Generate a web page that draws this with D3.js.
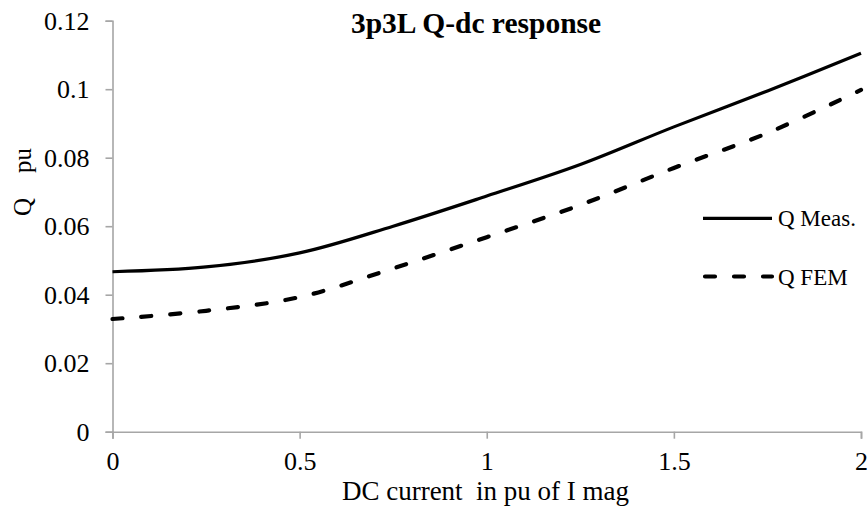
<!DOCTYPE html>
<html><head><meta charset="utf-8">
<script src="https://cdn.jsdelivr.net/npm/d3@7"></script>
<style>
html,body{margin:0;padding:0;background:#fff;}
svg text{font-family:"Liberation Serif","Times New Roman",serif;fill:#000;}
</style></head>
<body><svg id="c" width="868" height="516"></svg>
<script>
const xValues = [0, 0.25, 0.5, 0.75, 1, 1.25, 1.5, 1.75, 2];
const qMeas = [0.0467, 0.0481, 0.0522, 0.0600, 0.0688, 0.0780, 0.0890, 0.0995, 0.1105];
const qFEM  = [0.0329, 0.0353, 0.0393, 0.0477, 0.0568, 0.0662, 0.0770, 0.0872, 0.0998];
const xTicks = [0, 0.5, 1, 1.5, 2];
const yTicks = [0, 0.02, 0.04, 0.06, 0.08, 0.1, 0.12];
const seriesNames = ["Q Meas.", "Q FEM"];

const svg = d3.select("#c");
const x = d3.scaleLinear().domain([0, 2]).range([112.5, 861]);
const y = d3.scaleLinear().domain([0, 0.12]).range([431.7, 20.7]);
const axisColor = "#a6a6a6";

const gx = svg.append("g").attr("transform", `translate(0,${y(0)})`)
  .call(d3.axisBottom(x).tickValues(xTicks).tickFormat(d => d3.format("")(d)).tickSizeOuter(0).tickSize(7).tickPadding(13));
const gy = svg.append("g").attr("transform", `translate(${x(0)},0)`)
  .call(d3.axisLeft(y).tickValues(yTicks).tickFormat(d => String(+d.toFixed(2))).tickSizeOuter(0).tickSize(7).tickPadding(16));
[gx, gy].forEach(g => {
  g.attr("font-family", null);
  g.selectAll("path,line").attr("stroke", axisColor).attr("stroke-width", 1.6);
  g.selectAll("text").attr("font-size", 26).attr("fill", "#000");
});

const line = d3.line().x((d, i) => x(xValues[i])).y(d => y(d)).curve(d3.curveCatmullRom.alpha(0.5));
svg.append("path").datum(qMeas).attr("d", line).attr("fill", "none")
  .attr("stroke", "#000").attr("stroke-width", 3.2);
svg.append("path").datum(qFEM).attr("d", line).attr("fill", "none")
  .attr("stroke", "#000").attr("stroke-width", 4.2).attr("stroke-dasharray", "10,19").attr("stroke-linecap", "round");

// legend
const lg = svg.append("g");
const ly = [218.3, 276.5];
lg.append("line").attr("x1", 703).attr("x2", 772).attr("y1", ly[0]).attr("y2", ly[0]).attr("stroke", "#000").attr("stroke-width", 3.2);
lg.append("line").attr("x1", 705).attr("x2", 772).attr("y1", ly[1]).attr("y2", ly[1]).attr("stroke", "#000").attr("stroke-width", 4.2).attr("stroke-dasharray", "10,19").attr("stroke-linecap", "round");
seriesNames.forEach((n, i) => {
  lg.append("text").attr("x", 778).attr("y", ly[i] + 8).attr("font-size", 23).text(n);
});

svg.append("text").attr("x", 476).attr("y", 33).attr("text-anchor", "middle")
  .attr("font-size", 29.5).attr("font-weight", "bold").text("3p3L Q-dc response");
svg.append("text").attr("x", 485.5).attr("y", 500).attr("text-anchor", "middle")
  .attr("font-size", 27).style("white-space", "pre").text("DC current  in pu of I mag");
svg.append("text").attr("transform", "translate(31,182) rotate(-90)").attr("text-anchor", "middle")
  .attr("font-size", 25).style("white-space", "pre").text("Q    pu");
</script></body></html>
